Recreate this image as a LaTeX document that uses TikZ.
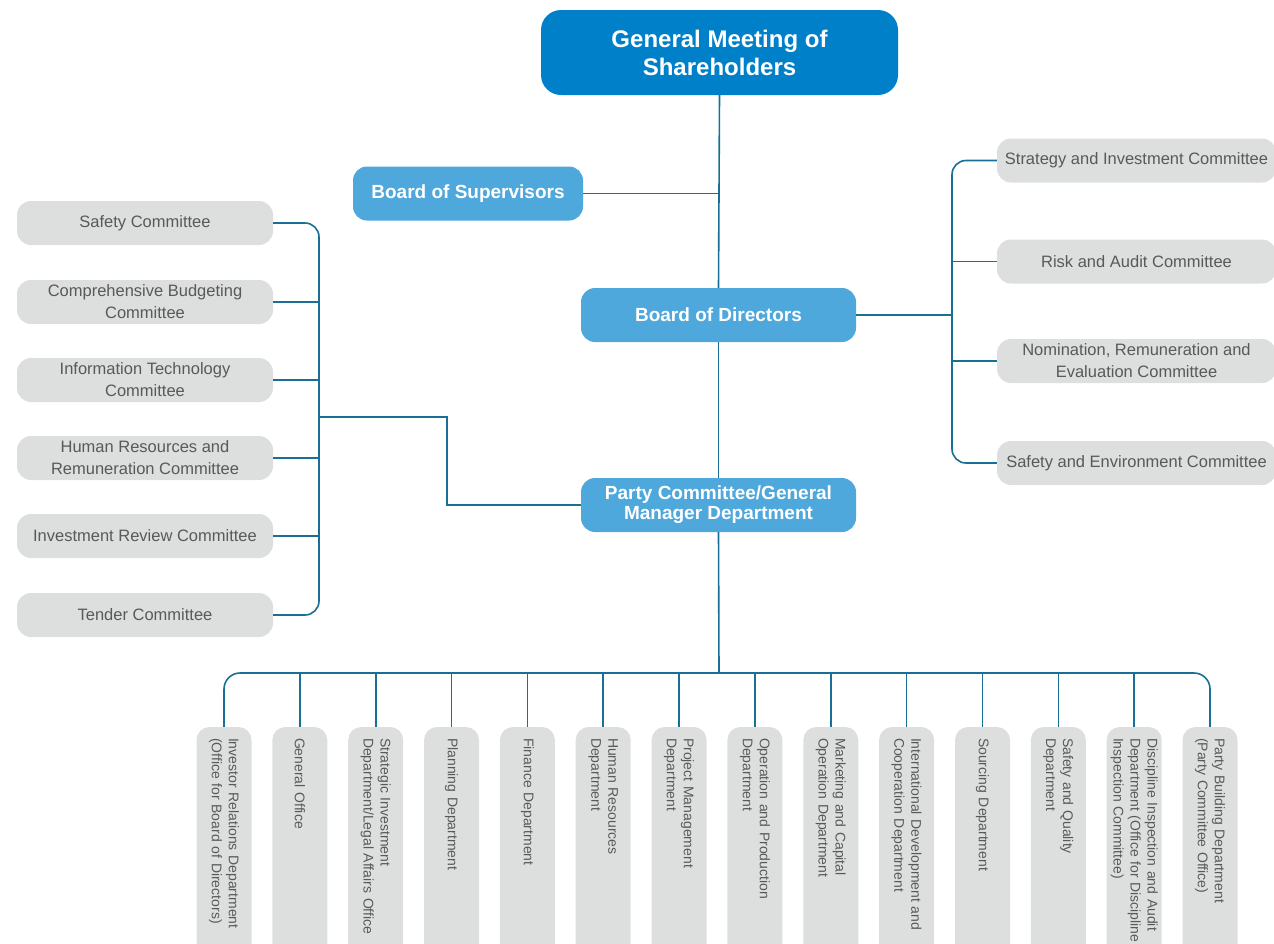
\documentclass[tikz,border=0pt]{standalone}
\usepackage{fontspec}
\setmainfont{Liberation Sans}
\usepackage{tikz}

\definecolor{topblue}{RGB}{0,128,201}
\definecolor{midblue}{RGB}{79,168,220}
\definecolor{boxgray}{RGB}{221,222,222}
\definecolor{txtgray}{RGB}{89,89,89}
\definecolor{linkblue}{RGB}{24,112,150}

\tikzset{
  topbox/.style={fill=topblue, text=white, rounded corners=20pt, minimum width=357pt, minimum height=85pt, inner sep=0pt, align=center, font=\fontsize{24}{28}\selectfont\bfseries},
  bluebox/.style={fill=midblue, text=white, rounded corners=14pt, minimum height=54pt, inner sep=0pt, align=center, font=\fontsize{19}{20}\selectfont\bfseries},
  sidebox/.style={fill=boxgray, text=txtgray, rounded corners=14pt, minimum height=44pt, inner sep=0pt, align=center, font=\fontsize{16.5}{22}\selectfont},
  deptbox/.style={fill=boxgray, text=txtgray, rounded corners=13pt, rotate=-90, minimum height=55pt, text width=214pt, inner xsep=11pt, inner ysep=0pt, align=left, font=\fontsize{14}{17}\selectfont},
  link/.style={draw=linkblue, line width=1.6pt}
}

\begin{document}
\begin{tikzpicture}[x=1pt, y=-1pt]
      \clip (0,0) rectangle (1274,943);

      \node[topbox](gms) at (719.5,52.5){General Meeting of\\Shareholders};
      \node[bluebox, minimum width=230pt](bsv) at (468,193.5){Board of Supervisors};
      \node[bluebox, minimum width=275pt](bod) at (718.5,315){Board of Directors};
      \node[bluebox, minimum width=275pt](pcg) at (718.5,505){Party Committee/General\\Manager Department};

      \node[sidebox, minimum width=256pt](sc1) at (145,223){Safety Committee};
      \node[sidebox, minimum width=256pt](sc2) at (145,302){Comprehensive Budgeting\\Committee};
      \node[sidebox, minimum width=256pt](sc3) at (145,380){Information Technology\\Committee};
      \node[sidebox, minimum width=256pt](sc4) at (145,458){Human Resources and\\Remuneration Committee};
      \node[sidebox, minimum width=256pt](sc5) at (145,536){Investment Review Committee};
      \node[sidebox, minimum width=256pt](sc6) at (145,615){Tender Committee};

      \node[sidebox, minimum width=279pt](rc1) at (1136.5,160.5){Strategy and Investment Committee};
      \node[sidebox, minimum width=279pt](rc2) at (1136.5,261.5){Risk and Audit Committee};
      \node[sidebox, minimum width=279pt](rc3) at (1136.5,361){Nomination, Remuneration and\\Evaluation Committee};
      \node[sidebox, minimum width=279pt](rc4) at (1136.5,463){Safety and Environment Committee};

      \node[deptbox](d1) at (224,845){Investor Relations Department\\(Office for Board of Directors)};
      \node[deptbox](d2) at (299.8,845){General Office};
      \node[deptbox](d3) at (375.7,845){Strategic Investment\\Department/Legal Affairs Office};
      \node[deptbox](d4) at (451.5,845){Planning Department};
      \node[deptbox](d5) at (527.4,845){Finance Department};
      \node[deptbox](d6) at (603.2,845){Human Resources\\Department};
      \node[deptbox](d7) at (679.1,845){Project Management\\Department};
      \node[deptbox](d8) at (754.9,845){Operation and Production\\Department};
      \node[deptbox](d9) at (830.8,845){Marketing and Capital\\Operation Department};
      \node[deptbox](d10) at (906.6,845){International Development and\\Cooperation Department};
      \node[deptbox](d11) at (982.5,845){Sourcing Department};
      \node[deptbox](d12) at (1058.3,845){Safety and Quality\\Department};
      \node[deptbox](d13) at (1134.2,845){Discipline Inspection and Audit\\Department (Office for Discipline\\Inspection Committee)};
      \node[deptbox](d14) at (1210,845){Party Building Department\\(Party Committee Office)};

      \coordinate (lbar) at (319,417);
      \coordinate (lbend) at (447,417);
      \coordinate (rbar) at (952,315);
      \coordinate (bus) at (719,673);

      \draw[link] (gms.south) -- (bod.north);
      \draw[link] (bsv.east) -- (bsv.east -| gms.south);
      \draw[link] (bod.south) -- (pcg.north);
      \draw[link] (pcg.south) -- (bus);

      \draw[link, rounded corners=14pt] (sc1.east) -| (lbar) |- (sc6.east);
      \draw[link] (sc2.east) -- (sc2.east -| lbar);
      \draw[link] (sc3.east) -- (sc3.east -| lbar);
      \draw[link] (sc4.east) -- (sc4.east -| lbar);
      \draw[link] (sc5.east) -- (sc5.east -| lbar);
      \draw[link] (lbar) -- (lbend) |- (pcg.west);

      \draw[link] (bod.east) -- (rbar);
      \draw[link, rounded corners=14pt] (rc1.west) -| (rbar) |- (rc4.west);
      \draw[link] (rc2.west) -- (rc2.west -| rbar);
      \draw[link] (rc3.west) -- (rc3.west -| rbar);

      \draw[link, rounded corners=16pt] (d1.west) |- (bus) -| (d14.west);
      \draw[link] (d2.west) -- (d2.west |- bus);
      \draw[link] (d3.west) -- (d3.west |- bus);
      \draw[link] (d4.west) -- (d4.west |- bus);
      \draw[link] (d5.west) -- (d5.west |- bus);
      \draw[link] (d6.west) -- (d6.west |- bus);
      \draw[link] (d7.west) -- (d7.west |- bus);
      \draw[link] (d8.west) -- (d8.west |- bus);
      \draw[link] (d9.west) -- (d9.west |- bus);
      \draw[link] (d10.west) -- (d10.west |- bus);
      \draw[link] (d11.west) -- (d11.west |- bus);
      \draw[link] (d12.west) -- (d12.west |- bus);
      \draw[link] (d13.west) -- (d13.west |- bus);
    \end{tikzpicture}
\end{document}
